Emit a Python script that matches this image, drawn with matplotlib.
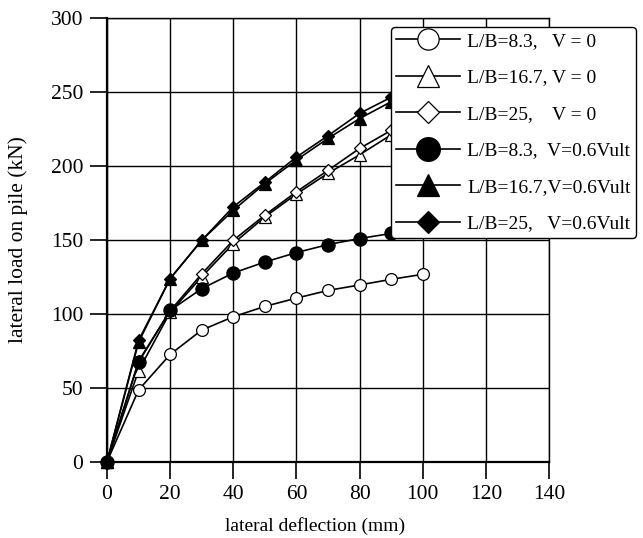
import matplotlib
matplotlib.use("Agg")
import matplotlib.pyplot as plt

plt.rcParams['font.family'] = ['Liberation Serif', 'DejaVu Serif']

x_full = [0, 10, 20, 30, 40, 50, 60, 70, 80, 90, 100]
x_part = [0, 10, 20, 30, 40, 50, 60, 70, 80, 90]

lb83_v0 = [0, 48.5, 72.5, 89, 98, 105, 110.6, 115.8, 119.5, 123.3, 126.7]
lb167_v0 = [0, 61.6, 101, 125, 147.5, 165.5, 181, 195, 207.5, 221]
lb25_v0 = [0, 68, 102, 127, 149.7, 166.7, 182.5, 197, 211.8, 224]
lb83_v06 = [0, 67.3, 102.3, 117, 127.6, 135, 141.4, 146.8, 150.9, 154.3]
lb167_v06 = [0, 80.8, 123.8, 149.7, 170, 188, 204, 218.6, 232, 243.4]
lb25_v06 = [0, 82, 123.8, 149.7, 172.3, 189, 206, 220.4, 235.5, 246.4]

labels = ["L/B=8.3,   V = 0", "L/B=16.7, V = 0", "L/B=25,    V = 0",
          "L/B=8.3,  V=0.6Vult", "L/B=16.7,V=0.6Vult", "L/B=25,   V=0.6Vult"]

xticks = [0, 20, 40, 60, 80, 100, 120, 140]
yticks = [0, 50, 100, 150, 200, 250, 300]

fig = plt.figure(figsize=(6.43, 5.38), dpi=100)
ax = fig.add_axes([107/643, 1-461.7/538, (549-107)/643, (461.7-18)/538])

series = [
    (x_full, lb83_v0, 'o', 'white', 8.5),
    (x_part, lb167_v0, '^', 'white', 8.5),
    (x_part, lb25_v0, 'D', 'white', 6.5),
    (x_part, lb83_v06, 'o', 'black', 9.5),
    (x_part, lb167_v06, '^', 'black', 8.5),
    (x_part, lb25_v06, 'D', 'black', 6.5),
]
handles = []
for (xs, ys, m, fc, ms), lab in zip(series, labels):
    h, = ax.plot(xs, ys, color='black', lw=1.2, marker=m, markersize=ms,
                 markerfacecolor=fc, markeredgecolor='black', markeredgewidth=0.9,
                 label=lab, clip_on=False, zorder=3)
    handles.append(h)

ax.set_xlim(0, 140)
ax.set_ylim(0, 300)
ax.set_xticks(xticks)
ax.set_yticks(yticks)
ax.grid(True, color='black', lw=1.0)
ax.set_axisbelow(True)
ax.tick_params(direction='out', length=12, width=1.2, labelsize=15.5, color='black', pad=5)
for s in ['left', 'bottom']:
    ax.spines[s].set_linewidth(1.6)
for s in ['top', 'right']:
    ax.spines[s].set_linewidth(1.0)

ax.set_xlabel('lateral deflection (mm)', fontsize=14)
ax.xaxis.set_label_coords(0.47, -0.125)
ax.set_ylabel('lateral load on pile (kN)', fontsize=15.5)
ax.yaxis.set_label_coords(-0.178, 0.5)

leg = fig.legend(handles=handles, loc='upper left', bbox_to_anchor=(391/643, 1-27/538),
                 bbox_transform=fig.transFigure, fontsize=14, markerscale=1.8,
                 handlelength=3.25, handletextpad=0.4, labelspacing=0.97,
                 borderpad=0.28, borderaxespad=0, fancybox=True, framealpha=1,
                 edgecolor='black', facecolor='white')
leg.get_frame().set_linewidth(1.0)
leg.set_zorder(10)

fig.savefig('out.png', dpi=100)
